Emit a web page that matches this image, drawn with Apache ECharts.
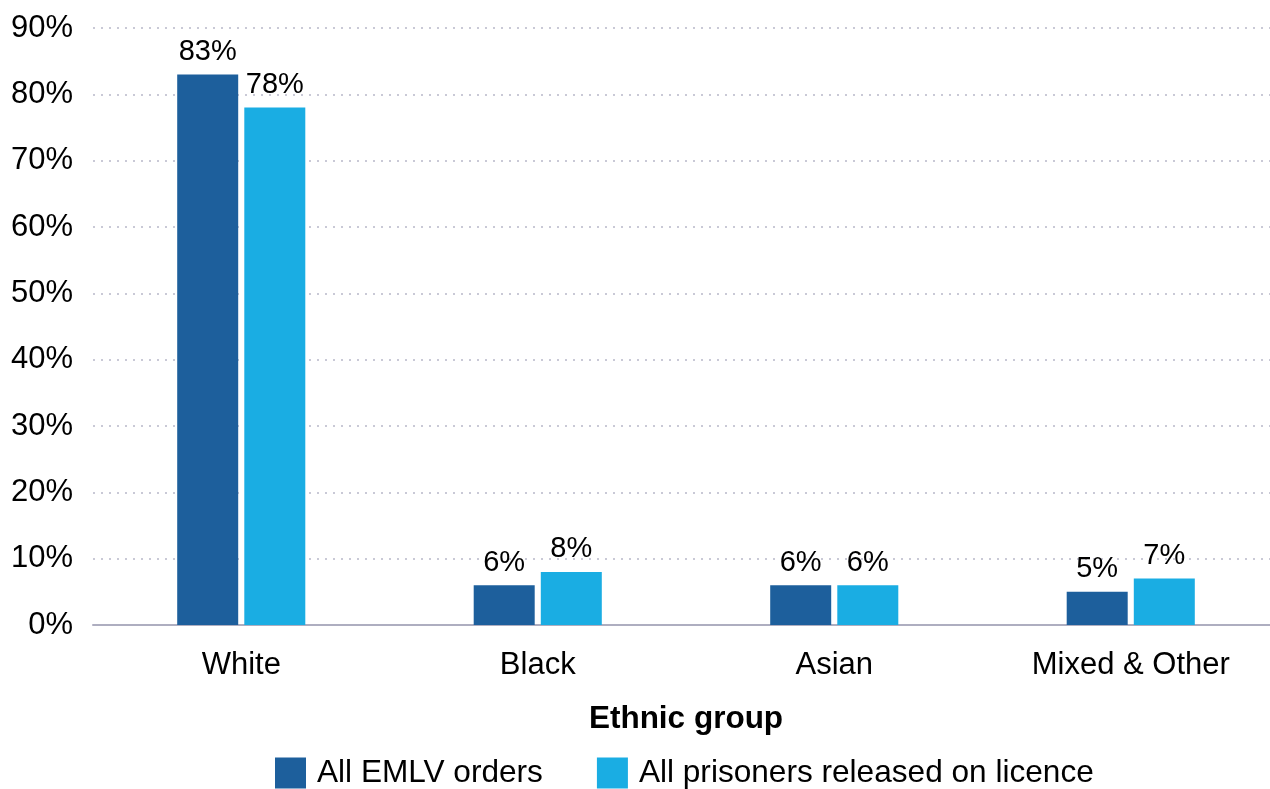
<!DOCTYPE html>
<html>
<head>
<meta charset="utf-8">
<script src="https://cdn.jsdelivr.net/npm/echarts@6/dist/echarts.min.js"></script>
<style>
  html, body { margin: 0; padding: 0; background: #ffffff; overflow: hidden; }
  #chart { width: 1270px; height: 789px; }
</style>
</head>
<body>
<div id="chart"></div>
<script>
// Ethnic group breakdown: EMLV orders vs all prisoners released on licence (%)
const categories = ['White', 'Black', 'Asian', 'Mixed & Other'];
const emlvOrders = [83, 6, 6, 5];
const releasedOnLicence = [78, 8, 6, 7];
const yTicks = [0, 10, 20, 30, 40, 50, 60, 70, 80, 90];

const FONT = '"Liberation Sans", Arial, sans-serif';
const DARK = '#1d5f9c';
const LIGHT = '#1aade3';

const chart = echarts.init(document.getElementById('chart'), null, { renderer: 'canvas' });

const labelStyle = {
  show: true,
  position: 'top',
  distance: 8,
  color: '#000',
  fontFamily: FONT,
  fontSize: 29,
  formatter: p => p.value + '%'
};

chart.setOption({
  animation: false,
  textStyle: { fontFamily: FONT },
  // plot area runs slightly past the right edge of the canvas
  grid: { left: 93, width: 1186, top: 28, bottom: 164, containLabel: false, outerBoundsMode: 'none' },
  legend: {
    top: 757,
    left: 275,
    padding: 0,
    itemWidth: 31,
    itemHeight: 31,
    itemGap: 54,
    icon: 'rect',
    textStyle: { fontFamily: FONT, fontSize: 31.6, color: '#000', padding: [0, 0, 0, 6] },
    data: ['All EMLV orders', 'All prisoners released on licence']
  },
  xAxis: {
    type: 'category',
    data: categories,
    name: 'Ethnic group',
    nameLocation: 'middle',
    nameGap: 78,
    nameTextStyle: { fontFamily: FONT, fontSize: 31.5, fontWeight: 'bold', color: '#000' },
    axisLine: { show: true, lineStyle: { color: '#aeaec0', width: 2 } },
    axisTick: { show: false },
    axisLabel: { color: '#000', fontFamily: FONT, fontSize: 31, margin: 25 }
  },
  yAxis: {
    type: 'value',
    min: yTicks[0],
    max: yTicks[yTicks.length - 1],
    interval: 10,
    axisLine: { show: false },
    axisTick: { show: false },
    axisLabel: { color: '#000', fontFamily: FONT, fontSize: 31, margin: 20, formatter: v => v + '%' },
    splitLine: { show: true, lineStyle: { color: '#c9c9d6', width: 2, type: [2, 6] } }
  },
  series: [
    {
      name: 'All EMLV orders',
      type: 'bar',
      data: emlvOrders,
      barWidth: 61,
      barGap: '10%',
      itemStyle: { color: DARK },
      label: labelStyle
    },
    {
      name: 'All prisoners released on licence',
      type: 'bar',
      data: releasedOnLicence,
      barWidth: 61,
      itemStyle: { color: LIGHT },
      label: labelStyle
    }
  ]
});
</script>
</body>
</html>
